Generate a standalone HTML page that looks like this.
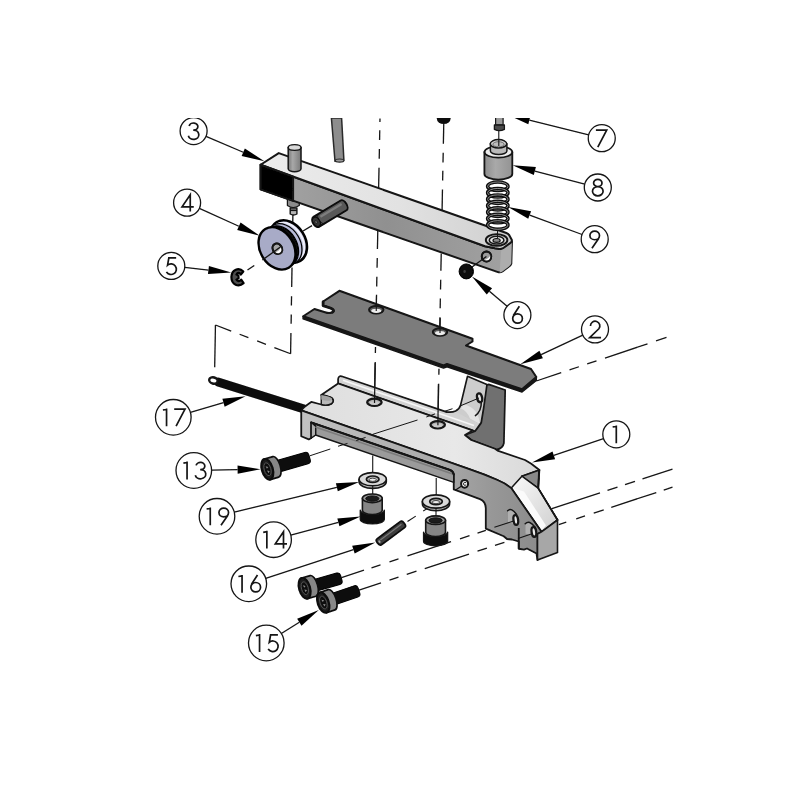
<!DOCTYPE html>
<html><head><meta charset="utf-8"><title>Exploded view</title>
<style>html,body{margin:0;padding:0;background:#fff;}body{width:800px;height:800px;overflow:hidden;font-family:"Liberation Sans",sans-serif;}svg{display:block}</style>
</head><body>
<svg width="800" height="800" viewBox="0 0 800 800">
<defs>
<linearGradient id="gBarTop" x1="0" y1="0" x2="1" y2="0"><stop offset="0" stop-color="#ececec"/><stop offset="0.55" stop-color="#e2e2e2"/><stop offset="1" stop-color="#cfcfcf"/></linearGradient>
<linearGradient id="gBarFront" x1="0" y1="0" x2="1" y2="0"><stop offset="0" stop-color="#a6a6a6"/><stop offset="0.5" stop-color="#909090"/><stop offset="1" stop-color="#a2a2a2"/></linearGradient>
<linearGradient id="gCyl" x1="0" y1="0" x2="1" y2="0"><stop offset="0" stop-color="#777"/><stop offset="0.35" stop-color="#a8a8a8"/><stop offset="1" stop-color="#7a7a7a"/></linearGradient>
<linearGradient id="gBaseTop" x1="0" y1="0" x2="1" y2="0"><stop offset="0" stop-color="#dedede"/><stop offset="0.6" stop-color="#e8e8e8"/><stop offset="1" stop-color="#d6d6d6"/></linearGradient>
<linearGradient id="gRamp" x1="0" y1="0" x2="1" y2="1"><stop offset="0" stop-color="#fafafa"/><stop offset="0.5" stop-color="#e4e4e4"/><stop offset="1" stop-color="#cfcfcf"/></linearGradient>
<linearGradient id="gFront" gradientUnits="userSpaceOnUse" x1="301" y1="0" x2="541" y2="0"><stop offset="0" stop-color="#c2c2c2"/><stop offset="0.6" stop-color="#a8a8a8"/><stop offset="0.8" stop-color="#979797"/><stop offset="1" stop-color="#8b8b8b"/></linearGradient>
<linearGradient id="gCyl2" x1="0" y1="0" x2="1" y2="0"><stop offset="0" stop-color="#8e8e8e"/><stop offset="0.4" stop-color="#a9a9a9"/><stop offset="1" stop-color="#939393"/></linearGradient>
<filter id="soft" x="0" y="0" width="800" height="800" filterUnits="userSpaceOnUse"><feGaussianBlur stdDeviation="0.38"/></filter>
<clipPath id="clipTop"><rect x="0" y="118.5" width="800" height="690"/></clipPath>
</defs>
<rect width="800" height="800" fill="#fff"/>
<g clip-path="url(#clipTop)"><g filter="url(#soft)">
<line x1="380.0" y1="118.5" x2="379.93" y2="122" stroke="#141414" stroke-width="1.3"/>
<line x1="379.77" y1="130.25" x2="379.58" y2="140" stroke="#141414" stroke-width="1.3"/>
<line x1="379.4" y1="149" x2="379.21" y2="158.75" stroke="#141414" stroke-width="1.3"/>
<line x1="379.03" y1="167.75" x2="378.63" y2="188" stroke="#141414" stroke-width="1.3"/>
<line x1="377.78" y1="231" x2="377.43" y2="249" stroke="#141414" stroke-width="1.3"/>
<line x1="377.25" y1="258" x2="377.06" y2="267.75" stroke="#141414" stroke-width="1.3"/>
<line x1="376.88" y1="276.75" x2="376.69" y2="286.5" stroke="#141414" stroke-width="1.3"/>
<line x1="376.53" y1="294.75" x2="376.25" y2="309" stroke="#141414" stroke-width="1.3"/>
<line x1="375.5" y1="347" x2="375.38" y2="353" stroke="#141414" stroke-width="1.3"/>
<line x1="375.21" y1="362" x2="374.41" y2="402.5" stroke="#141414" stroke-width="1.3"/>
<line x1="443.75" y1="124" x2="443.36" y2="143.75" stroke="#141414" stroke-width="1.3"/>
<line x1="443.19" y1="152.75" x2="443.0" y2="162.5" stroke="#141414" stroke-width="1.3"/>
<line x1="442.84" y1="170.75" x2="442.65" y2="180.5" stroke="#141414" stroke-width="1.3"/>
<line x1="442.47" y1="189.5" x2="442.07" y2="210" stroke="#141414" stroke-width="1.3"/>
<line x1="441.22" y1="253.5" x2="440.89" y2="270.75" stroke="#141414" stroke-width="1.3"/>
<line x1="440.71" y1="279.75" x2="440.52" y2="289.5" stroke="#141414" stroke-width="1.3"/>
<line x1="440.34" y1="298.5" x2="440.15" y2="308.25" stroke="#141414" stroke-width="1.3"/>
<line x1="439.98" y1="317.25" x2="439.7" y2="331.5" stroke="#141414" stroke-width="1.3"/>
<line x1="438.97" y1="368.75" x2="438.86" y2="374.75" stroke="#141414" stroke-width="1.3"/>
<line x1="438.68" y1="383.75" x2="437.89" y2="424.25" stroke="#141414" stroke-width="1.3"/>
<ellipse cx="443.7" cy="118.5" rx="6.9" ry="5.6" fill="#0a0a0a" stroke="none" stroke-width="1.3"/>
<line x1="290.94" y1="333.1" x2="290.6" y2="353.75" stroke="#141414" stroke-width="1.3"/>
<line x1="291.25" y1="314.4" x2="291.1" y2="323.75" stroke="#141414" stroke-width="1.3"/>
<line x1="291.55" y1="296.25" x2="291.39" y2="305.6" stroke="#141414" stroke-width="1.3"/>
<line x1="292.02" y1="267.5" x2="291.7" y2="286.9" stroke="#141414" stroke-width="1.3"/>
<line x1="292.91" y1="214" x2="292.64" y2="230" stroke="#141414" stroke-width="1.3"/>
<line x1="290.6" y1="353.75" x2="215.45" y2="325" stroke="#141414" stroke-width="1.3" stroke-dasharray="17.4 9 9.4 9.4 9.4 9 17.6"/>
<line x1="215.45" y1="325" x2="214.7" y2="367.3" stroke="#141414" stroke-width="1.3"/>
<line x1="536.3" y1="381.0" x2="561.2" y2="372.67" stroke="#141414" stroke-width="1.3"/>
<line x1="569.5" y1="369.89" x2="578.9" y2="366.75" stroke="#141414" stroke-width="1.3"/>
<line x1="587.2" y1="363.97" x2="596.5" y2="360.86" stroke="#141414" stroke-width="1.3"/>
<line x1="605" y1="358.02" x2="647.5" y2="343.8" stroke="#141414" stroke-width="1.3"/>
<line x1="656" y1="340.96" x2="666.5" y2="337.45" stroke="#141414" stroke-width="1.3"/>
<polygon points="331.4,118 341.6,118 343.9,160.3 335.0,161.3" fill="#8d8d8d" stroke="#2a2a2a" stroke-width="1.5" stroke-linejoin="round" />
<ellipse cx="339.6" cy="160.6" rx="4.3" ry="1.6" fill="#9a9a9a" stroke="#2a2a2a" stroke-width="1.2"/>
<path d="M287.4,198 L287.4,205.5 Q293,209.5 299.3,205.5 L299.3,198 Z" fill="#8c8c8c" stroke="#141414" stroke-width="1.2" stroke-linejoin="round" stroke-linecap="round" />
<path d="M290.2,208 L290.2,214 Q293.5,216 296.9,214 L296.9,208 Z" fill="#b5b5b5" stroke="#141414" stroke-width="1.4" stroke-linejoin="round" stroke-linecap="round" />
<line x1="290.2" y1="210.3" x2="296.9" y2="210.3" stroke="#141414" stroke-width="1.6"/>
<path d="M260.6,164.75 L485,246.3 L495,248.2 L501.25,249 L511.9,241.9 L511.3,263.6 Q510.6,265.4 509,266.4 L502.4,271.4 Q500.4,272.8 498,272.1 L260.6,189.4 Z" fill="url(#gBarFront)" stroke="#141414" stroke-width="2.0" stroke-linejoin="round" stroke-linecap="round" />
<path d="M501.25,249 L511.9,241.9 L511.3,263.6 Q510.6,265.4 509,266.4 L502.4,271.4 Q501,272.4 499.6,272.5 Z" fill="#adadad" stroke="none" stroke-width="0" stroke-linejoin="round" stroke-linecap="round" />
<path d="M260.6,164.75 L278.75,153.1 L506.4,233 Q508.4,233.8 509.4,235.4 L511.6,239.4 Q512.4,241.4 510.8,242.6 L503,248.2 Q501.4,249.2 499.4,249 L495,248.3 L485,246.3 Z" fill="url(#gBarTop)" stroke="#141414" stroke-width="2.0" stroke-linejoin="round" stroke-linecap="round" />
<polygon points="260.6,164.75 293.1,176.6 293.1,200.9 260.6,189.4" fill="#000" stroke="#141414" stroke-width="2.0" stroke-linejoin="round" />
<path d="M288.2,147.5 L288.2,168.8 A6.4,2.9 0 0 0 301,168.8 L301,147.5 Z" fill="url(#gCyl)" stroke="#141414" stroke-width="1.5" stroke-linejoin="round" stroke-linecap="round" />
<ellipse cx="294.6" cy="147.5" rx="6.4" ry="2.9" fill="#d9d9d9" stroke="#141414" stroke-width="1.4"/>
<ellipse cx="496.6" cy="240" rx="10.8" ry="5.9" fill="#d4d4d4" stroke="#141414" stroke-width="1.9"/>
<ellipse cx="496.6" cy="240.2" rx="7.3" ry="3.9" fill="#e9e9e9" stroke="#141414" stroke-width="1.5"/>
<ellipse cx="496.6" cy="240.4" rx="3.6" ry="1.9" fill="#8a8a8a" stroke="#141414" stroke-width="1.2"/>
<line x1="497.6" y1="230" x2="497.4" y2="238.4" stroke="#141414" stroke-width="1.0"/>
<ellipse cx="486.5" cy="256.5" rx="4.7" ry="5.0" fill="#9c9c9c" stroke="#141414" stroke-width="1.9"/>
<path d="M483.4,260.2 A4.7,5 0 0 0 490.9,254.6 Q488.6,259.4 483.4,260.2 Z" fill="#fff" stroke="none" stroke-width="0" stroke-linejoin="round" stroke-linecap="round" />
<ellipse cx="486.5" cy="256.5" rx="4.7" ry="5.0" fill="none" stroke="#141414" stroke-width="1.9"/>
<g transform="translate(316.4,221.8) rotate(-31.09)">
<path d="M0,-5.7 L31.76,-5.7 A3.2,5.7 0 0 1 31.76,5.7 L0,5.7 A3.6,5.7 0 0 1 0,-5.7 Z" fill="#585858" stroke="#0a0a0a" stroke-width="1.9"/>
<line x1="6" y1="-2.2" x2="30.76" y2="-2.2" stroke="#7d7d7d" stroke-width="2.4"/>
<path d="M4.2,-5.7 A3.6,5.7 0 0 0 4.2,5.7" fill="none" stroke="#111" stroke-width="1.3"/>
<path d="M6.6,-5.7 A3.6,5.7 0 0 0 6.6,5.7" fill="none" stroke="#111" stroke-width="1.0"/>
<ellipse cx="0" cy="0" rx="3.4" ry="5.1000000000000005" fill="#343434" stroke="#0a0a0a" stroke-width="1.2"/>
<ellipse cx="-0.4" cy="0.2" rx="1.1" ry="1.7" fill="#6a6a6a" stroke="#111" stroke-width="0.6"/>
</g>
<line x1="303" y1="231" x2="312" y2="225.6" stroke="#141414" stroke-width="1.3"/>
<ellipse cx="288.48" cy="241.5" rx="16.7" ry="22.6" fill="#d6d8ee" stroke="#000" stroke-width="2.6" transform="rotate(-31.3 288.48 241.5)"/>
<ellipse cx="287.28" cy="242.22" rx="15.95" ry="21.58" fill="#f3f3fb" stroke="none" stroke-width="0" transform="rotate(-31.3 287.28 242.22)"/>
<ellipse cx="285.91" cy="243.04" rx="15.95" ry="21.58" fill="#cbcee8" stroke="none" stroke-width="0" transform="rotate(-31.3 285.91 243.04)"/>
<ellipse cx="284.03" cy="244.18" rx="16.2" ry="21.92" fill="#b7bad8" stroke="#000" stroke-width="1.3" transform="rotate(-31.3 284.03 244.18)"/>
<ellipse cx="280.94" cy="246.03" rx="15.95" ry="21.58" fill="#080808" stroke="#000" stroke-width="1.2" transform="rotate(-31.3 280.94 246.03)"/>
<ellipse cx="277.0" cy="248.4" rx="16.7" ry="22.6" fill="#a8abc7" stroke="#000" stroke-width="2.4" transform="rotate(-31.3 277.0 248.4)"/>
<ellipse cx="277.4" cy="248.8" rx="4.6" ry="5.5" fill="#a5a5a5" stroke="#141414" stroke-width="2.0" transform="rotate(-31.3 277.4 248.8)"/>
<path d="M274.2,252.6 A4.6,5.5 -31.3 0 0 281.4,246.6 Q279,252 274.2,252.6 Z" fill="#fff" stroke="none" stroke-width="0" stroke-linejoin="round" stroke-linecap="round" />
<ellipse cx="277.4" cy="248.8" rx="4.6" ry="5.5" fill="none" stroke="#141414" stroke-width="2.0" transform="rotate(-31.3 277.4 248.8)"/>
<line x1="262.4" y1="260" x2="280" y2="247.3" stroke="#141414" stroke-width="1.3"/>
<line x1="247.5" y1="270" x2="254.25" y2="265.5" stroke="#141414" stroke-width="1.3"/>
<path d="M243.3,271.6 C239,266.8 231.6,269.4 231.4,277 C231.4,284.8 238.6,287.6 243.6,283.2 L241.2,279.6 C239.6,281.6 237.4,281.6 236.4,279.6 L238.6,278.4 L238.4,275.4 L236.4,274.6 C237.4,272.4 239.6,272.2 240.8,274.6 Z" fill="#4e4e4e" stroke="#000" stroke-width="2.2" stroke-linejoin="round" stroke-linecap="round" />
<polygon points="495.6,116 503.1,116 503.1,125 495.6,125" fill="#9a9a9a" stroke="#141414" stroke-width="1.2" stroke-linejoin="round" />
<path d="M494.4,125 L494.4,129.4 Q499.4,132 504.4,129.4 L504.4,125 Z" fill="#4a4a4a" stroke="#141414" stroke-width="1.3" stroke-linejoin="round" stroke-linecap="round" />
<line x1="498.8" y1="131" x2="498.8" y2="146" stroke="#141414" stroke-width="1.1"/>
<ellipse cx="497.8" cy="186.3" rx="10.2" ry="4.3" fill="none" stroke="#0c0c0c" stroke-width="3.5"/>
<ellipse cx="497.8" cy="186.3" rx="10.2" ry="4.3" fill="none" stroke="#9a9a9a" stroke-width="0.9"/>
<ellipse cx="497.8" cy="192.75" rx="10.2" ry="4.3" fill="none" stroke="#0c0c0c" stroke-width="3.5"/>
<ellipse cx="497.8" cy="192.75" rx="10.2" ry="4.3" fill="none" stroke="#9a9a9a" stroke-width="0.9"/>
<ellipse cx="497.8" cy="199.20000000000002" rx="10.2" ry="4.3" fill="none" stroke="#0c0c0c" stroke-width="3.5"/>
<ellipse cx="497.8" cy="199.20000000000002" rx="10.2" ry="4.3" fill="none" stroke="#9a9a9a" stroke-width="0.9"/>
<ellipse cx="497.8" cy="205.65" rx="10.2" ry="4.3" fill="none" stroke="#0c0c0c" stroke-width="3.5"/>
<ellipse cx="497.8" cy="205.65" rx="10.2" ry="4.3" fill="none" stroke="#9a9a9a" stroke-width="0.9"/>
<ellipse cx="497.8" cy="212.10000000000002" rx="10.2" ry="4.3" fill="none" stroke="#0c0c0c" stroke-width="3.5"/>
<ellipse cx="497.8" cy="212.10000000000002" rx="10.2" ry="4.3" fill="none" stroke="#9a9a9a" stroke-width="0.9"/>
<ellipse cx="497.8" cy="218.55" rx="10.2" ry="4.3" fill="none" stroke="#0c0c0c" stroke-width="3.5"/>
<ellipse cx="497.8" cy="218.55" rx="10.2" ry="4.3" fill="none" stroke="#9a9a9a" stroke-width="0.9"/>
<ellipse cx="497.8" cy="225.0" rx="10.2" ry="4.3" fill="none" stroke="#0c0c0c" stroke-width="3.5"/>
<ellipse cx="497.8" cy="225.0" rx="10.2" ry="4.3" fill="none" stroke="#9a9a9a" stroke-width="0.9"/>
<path d="M484.4,152 L484.4,174 A13.95,5.6 0 0 0 512.3,174 L512.3,152 Z" fill="url(#gCyl2)" stroke="#141414" stroke-width="1.8" stroke-linejoin="round" stroke-linecap="round" />
<ellipse cx="498.4" cy="152" rx="13.9" ry="5.6" fill="#ededed" stroke="#141414" stroke-width="1.8"/>
<path d="M490.4,143.8 L490.4,151 A8.25,3.6 0 0 0 506.9,151 L506.9,143.8 Z" fill="#b9b9b9" stroke="#141414" stroke-width="1.5" stroke-linejoin="round" stroke-linecap="round" />
<ellipse cx="498.5" cy="143.8" rx="8.25" ry="4.2" fill="#d2d2d2" stroke="#141414" stroke-width="1.5"/>
<ellipse cx="498.5" cy="144.3" rx="5.6" ry="2.6" fill="#bdbdbd" stroke="#555" stroke-width="0.8"/>
<line x1="498.8" y1="139" x2="498.8" y2="146" stroke="#141414" stroke-width="1.1"/>
<line x1="470" y1="268.6" x2="486.4" y2="256.6" stroke="#141414" stroke-width="1.3"/>
<ellipse cx="466.3" cy="271.4" rx="7.2" ry="7.5" fill="#080808" stroke="#000" stroke-width="1"/>
<ellipse cx="464.6" cy="271.4" rx="1.3" ry="1.6" fill="#3c3c3c" stroke="none" stroke-width="0"/>
<line x1="218" y1="382" x2="304" y2="409" stroke="#0a0a0a" stroke-width="8.8" stroke-linecap="round"/>
<ellipse cx="213.4" cy="380.5" rx="4.3" ry="3.1" fill="#fff" stroke="#141414" stroke-width="2.4" transform="rotate(15 213.4 380.5)"/>
<path d="M341.6,376.3 L446.25,411.9 L456.9,410.5 L480,425 L475,431.25 L338.1,383.6 L338.1,379 Q338.6,375.6 341.6,376.3 Z" fill="#d2d2d2" stroke="none" stroke-width="0" stroke-linejoin="round" stroke-linecap="round" />
<path d="M446.25,411.9 L341.6,376.3 Q338.6,375.6 338.1,379 L338.1,383.6 L475,431.25" fill="none" stroke="#141414" stroke-width="1.7" stroke-linejoin="round" stroke-linecap="round" />
<line x1="343" y1="380.2" x2="474" y2="425.5" stroke="#f6f6f6" stroke-width="1.6"/>
<path d="M467.5,376.25 L486.9,384.4 L483.75,407.5 L481.25,422.5 L480,425 L455,411.2 Q459.5,409.5 460.5,405 Z" fill="#cdcdcd" stroke="none" stroke-width="0" stroke-linejoin="round" stroke-linecap="round" />
<path d="M463.5,404.5 Q472,406 476,412 Q479,417 480,424 L470,418.6 Q467,411 461,408.6 Z" fill="#e4e4e4" stroke="none" stroke-width="0" stroke-linejoin="round" stroke-linecap="round" />
<path d="M446.25,411.9 Q452,412.6 455.6,411 Q459.6,409 460.6,405 L467.5,376.25 L486.9,384.4" fill="none" stroke="#141414" stroke-width="1.6" stroke-linejoin="round" stroke-linecap="round" />
<ellipse cx="479.6" cy="397.8" rx="2.5" ry="4.5" fill="#e2e2e2" stroke="#141414" stroke-width="2.3" transform="rotate(-12 479.6 397.8)"/>
<path d="M481.3,402 Q481.5,411 475.4,415.6" fill="none" stroke="#141414" stroke-width="1.5" stroke-linejoin="round" stroke-linecap="round" />
<line x1="461" y1="405.6" x2="479" y2="398" stroke="#141414" stroke-width="1.0"/>
<path d="M488.75,384.4 L505.2,390 L503.9,443 Q503,448.5 496.25,449.6 L471.25,440 L465,435 L475,431.25 Q480.5,424 481.25,422.5 L483.75,407.5 L486.9,385 Z" fill="#6f6f6f" stroke="#141414" stroke-width="1.7" stroke-linejoin="round" stroke-linecap="round" />
<path d="M338.1,383.4 L321.25,395 L321.25,400 Q326,404.5 331,402.2 Q333.6,400 331.5,397.5 L329,396.4 M0,0" fill="none" stroke="#141414" stroke-width="0" stroke-linejoin="round" stroke-linecap="round" />
<path d="M338.1,383.4 L472.6,430.4 L465,435 L471.25,440 L495,448.75 L497.5,450.6 L525,460 L531.25,463.75 L539.4,470 L521.9,476.25 L538.1,488.1 L557.5,520 L541.5,531.8 L511.25,488.1 Q505,483 497.5,480 Q485,474.5 470,469.4 L301.25,410.3 Q303,407.5 311.25,401.9 L321.25,404.5 Q327,406.2 331.6,403.6 Q334.5,401 332,398.2 Q330,396.6 321.25,395 Z" fill="url(#gBaseTop)" stroke="#141414" stroke-width="1.8" stroke-linejoin="round" stroke-linecap="round" />
<path d="M321.25,395 L321.25,404.5 Q327,406.2 331.6,403.6 Q334.5,401 332,398.2 Q330,396.6 321.25,395 Z" fill="#b8b8b8" stroke="#141414" stroke-width="1.4" stroke-linejoin="round" stroke-linecap="round" />
<path d="M321.25,399.5 Q327,401.5 331.2,400.2 L332,398.2 Q330,396.6 321.25,395 Z" fill="#a2a2a2" stroke="none" stroke-width="0" stroke-linejoin="round" stroke-linecap="round" />
<polygon points="521.9,476.25 539.4,470 538.1,488.1" fill="#8a8a8a" stroke="#141414" stroke-width="1.5" stroke-linejoin="round" />
<line x1="539.2" y1="470" x2="538.3" y2="488" stroke="#141414" stroke-width="2"/>
<polygon points="511.25,488.1 521.9,476.25 538.1,488.1 557.5,520 541.5,531.8" fill="url(#gRamp)" stroke="#141414" stroke-width="1.5" stroke-linejoin="round" />
<polygon points="512.5,488.3 524,491.5 546,525.5 541.3,530.5" fill="#fbfbfb" stroke="none" stroke-width="0" stroke-linejoin="round" />
<polygon points="541.5,531.8 546.5,525 557.5,520" fill="#cfcfcf" stroke="none" stroke-width="0" stroke-linejoin="round" />
<path d="M511.25,488.1 L541.5,531.8 L557.5,520 L538.1,488.1" fill="none" stroke="#141414" stroke-width="1.6" stroke-linejoin="round" stroke-linecap="round" />
<ellipse cx="374.4" cy="402.3" rx="7.2" ry="3.6" fill="#b4b4b4" stroke="#141414" stroke-width="2.3"/>
<ellipse cx="374.4" cy="403.1" rx="4.6" ry="1.9" fill="#c9c9c9" stroke="none" stroke-width="0"/>
<line x1="375.2" y1="363" x2="374.5" y2="403" stroke="#141414" stroke-width="1.2"/>
<ellipse cx="437.7" cy="424.7" rx="7.2" ry="3.6" fill="#b4b4b4" stroke="#141414" stroke-width="2.3"/>
<ellipse cx="437.7" cy="425.5" rx="4.6" ry="1.9" fill="#c9c9c9" stroke="none" stroke-width="0"/>
<line x1="438.4" y1="384" x2="437.9" y2="425.2" stroke="#141414" stroke-width="1.2"/>
<path d="M301.25,410.3 L453.75,463.7 L470,469.4 Q485,474.5 497.5,480 Q505,483 511.25,488.1 L541.5,531.8 L537.5,534 L537.5,560 L536.5,553.5 L527,548.5 L524,549.6 L518.75,548.75 L518.75,541.5 L512,539.5 L507,539 L503.75,536.25 L485.8,528.6 L485.8,508 Q485.5,501.5 480,499.2 L453.75,489.4 L453.75,474.4 Q453,471 450,470 L311.25,422.5 L311.25,437.9 L308.75,439.4 L301.25,436.25 Z" fill="url(#gFront)" stroke="#141414" stroke-width="1.8" stroke-linejoin="round" stroke-linecap="round" />
<polygon points="311.25,422.5 315.6,426.25 315.6,435 311.25,437.9" fill="#a9a9a9" stroke="#141414" stroke-width="1.2" stroke-linejoin="round" />
<path d="M311.25,422.5 L450,470 Q453,471 453.75,474.4 L453.75,482.4 L315.6,435 L315.6,426.25 Z" fill="#9b9b9b" stroke="#141414" stroke-width="1.4" stroke-linejoin="round" stroke-linecap="round" />
<polygon points="311.25,422.5 315.6,426.25 315.6,435 311.25,437.9" fill="#aeaeae" stroke="#141414" stroke-width="1.2" stroke-linejoin="round" />
<path d="M316,427.2 L452,473.8" fill="none" stroke="#7c7c7c" stroke-width="1.6" stroke-linejoin="round" stroke-linecap="round" />
<path d="M311.25,422.5 L450,470 Q453,471 453.75,474.4" fill="none" stroke="#141414" stroke-width="2.2" stroke-linejoin="round" stroke-linecap="round" />
<path d="M541.5,531.8 L557.5,520 L557.5,552.5 L537.5,560 L537.5,534 Z" fill="#a7a7a7" stroke="#141414" stroke-width="1.6" stroke-linejoin="round" stroke-linecap="round" />
<line x1="518.75" y1="528" x2="518.75" y2="548.75" stroke="#141414" stroke-width="1.8"/>
<path d="M508,510.5 Q511,507.5 516,514 L516.5,525 L508,522 Z" fill="#b0b0b0" stroke="none" stroke-width="0" stroke-linejoin="round" stroke-linecap="round" />
<path d="M507.6,510.8 Q511.5,507 516.6,514.5" fill="none" stroke="#141414" stroke-width="1.5" stroke-linejoin="round" stroke-linecap="round" />
<ellipse cx="515.8" cy="520" rx="2.3" ry="4.9" fill="#e8e8e8" stroke="#141414" stroke-width="2.3" transform="rotate(-8 515.8 520)"/>
<path d="M525.5,523.5 Q529,520 534.5,526.5 L534.8,536.5 L525.5,533.5 Z" fill="#b0b0b0" stroke="none" stroke-width="0" stroke-linejoin="round" stroke-linecap="round" />
<path d="M525.2,523.8 Q529.5,519.5 534.8,527" fill="none" stroke="#141414" stroke-width="1.5" stroke-linejoin="round" stroke-linecap="round" />
<ellipse cx="533.9" cy="531.9" rx="2.3" ry="4.9" fill="#e8e8e8" stroke="#141414" stroke-width="2.3" transform="rotate(-8 533.9 531.9)"/>
<line x1="494.4" y1="527.25" x2="513.75" y2="521" stroke="#141414" stroke-width="1.1"/>
<line x1="518" y1="538.5" x2="531.25" y2="534" stroke="#141414" stroke-width="1.1"/>
<ellipse cx="464.6" cy="483.8" rx="3.5" ry="3.9" fill="#f4f4f4" stroke="#141414" stroke-width="2.0"/>
<path d="M465.8,482.6 A1.4,1.6 0 1 0 465.9,485" fill="none" stroke="#141414" stroke-width="0.9" stroke-linejoin="round" stroke-linecap="round" />
<line x1="461.25" y1="486.25" x2="455.6" y2="490" stroke="#141414" stroke-width="1.1"/>
<line x1="372.5" y1="434.4" x2="417.5" y2="420" stroke="#141414" stroke-width="1.0"/>
<line x1="426.25" y1="417" x2="435" y2="413.9" stroke="#141414" stroke-width="1.0"/>
<line x1="445" y1="411.2" x2="452.5" y2="408.7" stroke="#141414" stroke-width="1.0"/>
<path d="M303.1,316.25 L303.1,318.8 L443.5,368.1 L447,366.7 L522,392 L536.3,380.4 L536.3,377 L522,389.2 L447,364 L443.5,365.5 Z" fill="#1a1a1a" stroke="#141414" stroke-width="1.5" stroke-linejoin="round" stroke-linecap="round" />
<path d="M339.4,290.8 L472.5,338.75 L472.5,341.5 L466,345.5 L531,369 L536.3,377 L522,389.2 L447,364 L443.5,365.5 L303.3,316.25 L314.4,309 L325,312.2 Q329,313.6 332,312.5 Q335.4,310.6 331,308.3 L323.1,305.6 L323.1,301.5 Z" fill="#7c7c7c" stroke="#141414" stroke-width="2.0" stroke-linejoin="round" stroke-linecap="round" />
<path d="M323.1,302 L323.1,305.6 L331,308.3 Q335.2,310.4 332.6,312.2" fill="none" stroke="#141414" stroke-width="2.8" stroke-linejoin="round" stroke-linecap="round" />
<ellipse cx="376.25" cy="309.75" rx="7.25" ry="3.75" fill="#5a5a5a" stroke="#141414" stroke-width="1.9"/>
<ellipse cx="376.25" cy="310.85" rx="5" ry="2.1" fill="#ececec" stroke="none" stroke-width="0"/>
<ellipse cx="440" cy="332" rx="7.25" ry="3.75" fill="#5a5a5a" stroke="#141414" stroke-width="1.9"/>
<ellipse cx="440" cy="333.1" rx="5" ry="2.1" fill="#ececec" stroke="none" stroke-width="0"/>
<line x1="376.5" y1="296" x2="376.25" y2="311" stroke="#141414" stroke-width="1.1"/>
<line x1="440.2" y1="318" x2="440" y2="333" stroke="#141414" stroke-width="1.1"/>
<g transform="translate(267.3,469.3) rotate(-16.00)">
<path d="M8,-5.9 L40.70,-5.9 Q43.90,-5.9 43.90,-2.6 L43.90,2.6 Q43.90,5.9 40.70,5.9 L8,5.9 Z" fill="#0e0e0e" stroke="#000" stroke-width="1"/>
<path d="M0,-10.7 L8.8,-10.7 A4.6,10.7 0 0 1 8.8,10.7 L0,10.7 Z" fill="#878787" stroke="#0c0c0c" stroke-width="1.7"/>
<ellipse cx="0" cy="0" rx="5.6" ry="10.7" fill="#1c1c1c" stroke="#0a0a0a" stroke-width="1.9"/>
<ellipse cx="0.2" cy="0" rx="3.3" ry="6.6" fill="#0c0c0c" stroke="#5e5e5e" stroke-width="0.8"/>
<path d="M-0.8,-3.4 L1.6,-2 L-0.2,-0.6 Z M-0.6,1.2 L1.8,2.4 L0,4 Z" fill="#8a8a8a"/>
</g>
<line x1="310" y1="455.75" x2="330.25" y2="449" stroke="#141414" stroke-width="1.0"/>
<line x1="338" y1="446.25" x2="347.5" y2="443.4" stroke="#141414" stroke-width="1.0"/>
<line x1="356.25" y1="440.6" x2="365.6" y2="437.4" stroke="#141414" stroke-width="1.0"/>
<line x1="372.7" y1="455.5" x2="372.7" y2="473" stroke="#141414" stroke-width="1.1"/>
<path d="M359.09999999999997,479.2 L359.09999999999997,481.8 A13.6,6.6 0 0 0 386.3,481.8 L386.3,479.2 Z" fill="#bdbdbd" stroke="#141414" stroke-width="1.6" stroke-linejoin="round" stroke-linecap="round" />
<ellipse cx="372.7" cy="479.2" rx="13.6" ry="6.6" fill="#dadada" stroke="#141414" stroke-width="1.6"/>
<ellipse cx="372.7" cy="479.2" rx="6.3" ry="3.2" fill="#b5b5b5" stroke="#141414" stroke-width="1.7"/>
<ellipse cx="372.7" cy="479.8" rx="3.6" ry="1.6" fill="#efefef" stroke="#333" stroke-width="0.9"/>
<line x1="372.7" y1="486" x2="372.7" y2="494" stroke="#141414" stroke-width="1.1"/>
<path d="M360.3,510.3 L360.3,519.3 A12,4.6 0 0 0 384.3,519.3 L384.3,510.3 A12,4.6 0 0 1 360.3,510.3 Z" fill="#0b0b0b" stroke="#141414" stroke-width="1.4" stroke-linejoin="round" stroke-linecap="round" />
<path d="M362.40000000000003,498.3 L362.40000000000003,510.3 A9.9,4.3 0 0 0 382.2,510.3 L382.2,498.3 Z" fill="#858585" stroke="#141414" stroke-width="1.6" stroke-linejoin="round" stroke-linecap="round" />
<ellipse cx="372.3" cy="498.3" rx="9.9" ry="4.3" fill="#9a9a9a" stroke="#141414" stroke-width="1.6"/>
<ellipse cx="372.3" cy="498.6" rx="6.6" ry="2.7" fill="#1e1e1e" stroke="#000" stroke-width="0.8"/>
<line x1="436.2" y1="478" x2="436.2" y2="496" stroke="#141414" stroke-width="1.1"/>
<path d="M422.4,501.5 L422.4,504.1 A13.6,6.6 0 0 0 449.6,504.1 L449.6,501.5 Z" fill="#bdbdbd" stroke="#141414" stroke-width="1.6" stroke-linejoin="round" stroke-linecap="round" />
<ellipse cx="436" cy="501.5" rx="13.6" ry="6.6" fill="#dadada" stroke="#141414" stroke-width="1.6"/>
<ellipse cx="436" cy="501.5" rx="6.3" ry="3.2" fill="#b5b5b5" stroke="#141414" stroke-width="1.7"/>
<ellipse cx="436" cy="502.1" rx="3.6" ry="1.6" fill="#efefef" stroke="#333" stroke-width="0.9"/>
<line x1="436" y1="508.5" x2="436" y2="516" stroke="#141414" stroke-width="1.1"/>
<path d="M423.6,532.2 L423.6,541.2 A12,4.6 0 0 0 447.6,541.2 L447.6,532.2 A12,4.6 0 0 1 423.6,532.2 Z" fill="#0b0b0b" stroke="#141414" stroke-width="1.4" stroke-linejoin="round" stroke-linecap="round" />
<path d="M425.70000000000005,520.2 L425.70000000000005,532.2 A9.9,4.3 0 0 0 445.5,532.2 L445.5,520.2 Z" fill="#858585" stroke="#141414" stroke-width="1.6" stroke-linejoin="round" stroke-linecap="round" />
<ellipse cx="435.6" cy="520.2" rx="9.9" ry="4.3" fill="#9a9a9a" stroke="#141414" stroke-width="1.6"/>
<ellipse cx="435.6" cy="520.5" rx="6.6" ry="2.7" fill="#1e1e1e" stroke="#000" stroke-width="0.8"/>
<g transform="translate(379.2,541.8) rotate(-36.54)">
<path d="M0,-3.7 L29.24,-3.7 Q31.24,-3.7 31.24,0 Q31.24,3.7 29.24,3.7 L0,3.7 A2.2,3.7 0 0 1 0,-3.7 Z" fill="#3c3c3c" stroke="#0a0a0a" stroke-width="1.7"/>
<line x1="2" y1="-0.8" x2="28.24" y2="-0.8" stroke="#7a7a7a" stroke-width="1.3"/>
<ellipse cx="0.3" cy="0" rx="1" ry="1.4" fill="#aaa"/>
</g>
<line x1="407.5" y1="521.5" x2="415.75" y2="516.1" stroke="#141414" stroke-width="1.1"/>
<line x1="423.25" y1="511" x2="427" y2="508.6" stroke="#141414" stroke-width="1.1"/>
<line x1="341.5" y1="577.62" x2="364" y2="570.24" stroke="#141414" stroke-width="1.3"/>
<line x1="371.5" y1="567.78" x2="380.5" y2="564.83" stroke="#141414" stroke-width="1.3"/>
<line x1="389.5" y1="561.88" x2="398.5" y2="558.93" stroke="#141414" stroke-width="1.3"/>
<line x1="407.5" y1="555.98" x2="451" y2="541.72" stroke="#141414" stroke-width="1.3"/>
<line x1="460" y1="538.77" x2="469.5" y2="535.65" stroke="#141414" stroke-width="1.3"/>
<line x1="477.5" y1="533.03" x2="485.8" y2="530.31" stroke="#141414" stroke-width="1.3"/>
<line x1="551.9" y1="508.64" x2="600" y2="492.87" stroke="#141414" stroke-width="1.3"/>
<line x1="607.5" y1="490.41" x2="617.5" y2="487.13" stroke="#141414" stroke-width="1.3"/>
<line x1="625" y1="484.67" x2="635" y2="481.39" stroke="#141414" stroke-width="1.3"/>
<line x1="642.5" y1="478.94" x2="672.5" y2="469.1" stroke="#141414" stroke-width="1.3"/>
<line x1="359" y1="590.12" x2="381" y2="582.9" stroke="#141414" stroke-width="1.3"/>
<line x1="389.5" y1="580.11" x2="398.5" y2="577.15" stroke="#141414" stroke-width="1.3"/>
<line x1="406.75" y1="574.44" x2="416.5" y2="571.24" stroke="#141414" stroke-width="1.3"/>
<line x1="424.75" y1="568.53" x2="469" y2="554.01" stroke="#141414" stroke-width="1.3"/>
<line x1="477.5" y1="551.22" x2="486.9" y2="548.13" stroke="#141414" stroke-width="1.3"/>
<line x1="495" y1="545.47" x2="504.4" y2="542.39" stroke="#141414" stroke-width="1.3"/>
<line x1="558.75" y1="524.54" x2="566.25" y2="522.08" stroke="#141414" stroke-width="1.3"/>
<line x1="576.25" y1="518.8" x2="585" y2="515.93" stroke="#141414" stroke-width="1.3"/>
<line x1="593.75" y1="513.05" x2="603.75" y2="509.77" stroke="#141414" stroke-width="1.3"/>
<line x1="611.25" y1="507.31" x2="656.25" y2="492.53" stroke="#141414" stroke-width="1.3"/>
<line x1="663.75" y1="490.07" x2="672.5" y2="487.2" stroke="#141414" stroke-width="1.3"/>
<g transform="translate(304.6,588.3) rotate(-15.82)">
<path d="M8,-5.9 L34.95,-5.9 Q38.15,-5.9 38.15,-2.6 L38.15,2.6 Q38.15,5.9 34.95,5.9 L8,5.9 Z" fill="#0e0e0e" stroke="#000" stroke-width="1"/>
<path d="M0,-10.7 L8.8,-10.7 A4.6,10.7 0 0 1 8.8,10.7 L0,10.7 Z" fill="#878787" stroke="#0c0c0c" stroke-width="1.7"/>
<ellipse cx="0" cy="0" rx="5.6" ry="10.7" fill="#1c1c1c" stroke="#0a0a0a" stroke-width="1.9"/>
<ellipse cx="0.2" cy="0" rx="3.3" ry="6.6" fill="#0c0c0c" stroke="#5e5e5e" stroke-width="0.8"/>
<path d="M-0.8,-3.4 L1.6,-2 L-0.2,-0.6 Z M-0.6,1.2 L1.8,2.4 L0,4 Z" fill="#8a8a8a"/>
</g>
<g transform="translate(323.2,602.6) rotate(-18.87)">
<path d="M8,-5.9 L34.53,-5.9 Q37.73,-5.9 37.73,-2.6 L37.73,2.6 Q37.73,5.9 34.53,5.9 L8,5.9 Z" fill="#0e0e0e" stroke="#000" stroke-width="1"/>
<path d="M0,-10.7 L8.8,-10.7 A4.6,10.7 0 0 1 8.8,10.7 L0,10.7 Z" fill="#878787" stroke="#0c0c0c" stroke-width="1.7"/>
<ellipse cx="0" cy="0" rx="5.6" ry="10.7" fill="#1c1c1c" stroke="#0a0a0a" stroke-width="1.9"/>
<ellipse cx="0.2" cy="0" rx="3.3" ry="6.6" fill="#0c0c0c" stroke="#5e5e5e" stroke-width="0.8"/>
<path d="M-0.8,-3.4 L1.6,-2 L-0.2,-0.6 Z M-0.6,1.2 L1.8,2.4 L0,4 Z" fill="#8a8a8a"/>
</g>
<line x1="206.02" y1="136.39" x2="243.24" y2="152.24" stroke="#141414" stroke-width="1.3"/>
<polygon points="264.40,161.25 241.63,156.01 244.85,148.47" fill="#000"/>
<circle cx="193.6" cy="131.1" r="13.5" fill="#fff" stroke="#141414" stroke-width="1.3"/>
<path d="M2.3,3.9 A4.4,3.6 0 1 1 6.4,8.1 A5.3,4.6 0 1 1 1.5,13.7" transform="translate(186.85,122.10)" fill="none" stroke="#141414" stroke-width="1.7" stroke-linejoin="miter" stroke-miterlimit="6"/>
<line x1="199.39" y1="208.29" x2="238.87" y2="226.27" stroke="#141414" stroke-width="1.3"/>
<polygon points="259.80,235.80 237.17,230.00 240.57,222.54" fill="#000"/>
<circle cx="187.1" cy="202.7" r="13.5" fill="#fff" stroke="#141414" stroke-width="1.3"/>
<path d="M9.9,17.9 L9.9,1.0 L1.7,13.2 L13.4,13.2" transform="translate(180.35,193.70)" fill="none" stroke="#141414" stroke-width="1.7" stroke-linejoin="miter" stroke-miterlimit="6"/>
<line x1="184.72" y1="267.40" x2="208.44" y2="270.05" stroke="#141414" stroke-width="1.3"/>
<polygon points="231.30,272.60 207.99,274.12 208.90,265.97" fill="#000"/>
<circle cx="171.3" cy="265.9" r="13.5" fill="#fff" stroke="#141414" stroke-width="1.3"/>
<path d="M11.6,0.9 L4.3,0.9 L3.0,8.3 A5.3,5.3 0 1 1 1.9,14.9" transform="translate(164.55,256.90)" fill="none" stroke="#141414" stroke-width="1.7" stroke-linejoin="miter" stroke-miterlimit="6"/>
<line x1="588.65" y1="134.89" x2="529.32" y2="120.15" stroke="#141414" stroke-width="1.3"/>
<polygon points="507.00,114.60 530.31,116.17 528.33,124.13" fill="#000"/>
<circle cx="601.75" cy="138.15" r="13.5" fill="#fff" stroke="#141414" stroke-width="1.3"/>
<path d="M0.9,0.9 L11.7,0.9 L2.8,17.9" transform="translate(595.00,129.15)" fill="none" stroke="#141414" stroke-width="1.7" stroke-linejoin="miter" stroke-miterlimit="6"/>
<line x1="584.74" y1="184.08" x2="534.85" y2="171.02" stroke="#141414" stroke-width="1.3"/>
<polygon points="512.60,165.20 535.89,167.06 533.81,174.99" fill="#000"/>
<circle cx="597.8" cy="187.5" r="13.5" fill="#fff" stroke="#141414" stroke-width="1.3"/>
<path d="M2.55,4.45 A4.2,3.6 0 1 0 10.95,4.45 A4.2,3.6 0 1 0 2.55,4.45 M1.45,12.7 A5.3,4.65 0 1 0 12.05,12.7 A5.3,4.65 0 1 0 1.45,12.7" transform="translate(591.05,178.50)" fill="none" stroke="#141414" stroke-width="1.7" stroke-linejoin="miter" stroke-miterlimit="6"/>
<line x1="582.05" y1="234.50" x2="529.66" y2="215.02" stroke="#141414" stroke-width="1.3"/>
<polygon points="508.10,207.00 531.09,211.17 528.23,218.86" fill="#000"/>
<circle cx="594.7" cy="239.2" r="13.5" fill="#fff" stroke="#141414" stroke-width="1.3"/>
<path d="M1.95,5.2 A4.8,4.35 0 1 0 11.55,5.2 A4.8,4.35 0 1 0 1.95,5.2 M10.9,8.0 L4.0,18.0" transform="translate(587.95,230.20)" fill="none" stroke="#141414" stroke-width="1.7" stroke-linejoin="miter" stroke-miterlimit="6"/>
<line x1="507.12" y1="306.35" x2="489.42" y2="291.30" stroke="#141414" stroke-width="1.3"/>
<polygon points="471.90,276.40 492.08,288.18 486.76,294.42" fill="#000"/>
<circle cx="517.4" cy="315.1" r="13.5" fill="#fff" stroke="#141414" stroke-width="1.3"/>
<path d="M8.7,0.2 L2.7,9.4 M2.05,12.4 A4.85,4.7 0 1 0 11.75,12.4 A4.85,4.7 0 1 0 2.05,12.4" transform="translate(510.65,306.10)" fill="none" stroke="#141414" stroke-width="1.7" stroke-linejoin="miter" stroke-miterlimit="6"/>
<line x1="582.77" y1="335.11" x2="541.14" y2="354.56" stroke="#141414" stroke-width="1.3"/>
<polygon points="520.30,364.30 539.40,350.85 542.87,358.28" fill="#000"/>
<circle cx="595" cy="329.4" r="13.5" fill="#fff" stroke="#141414" stroke-width="1.3"/>
<path d="M2.2,5.5 A4.7,4.7 0 1 1 10.6,8.4 L1.4,17.2 L12.8,17.2" transform="translate(588.25,320.40)" fill="none" stroke="#141414" stroke-width="1.7" stroke-linejoin="miter" stroke-miterlimit="6"/>
<line x1="603.50" y1="438.60" x2="553.80" y2="455.28" stroke="#141414" stroke-width="1.3"/>
<polygon points="532.00,462.60 552.50,451.39 555.11,459.17" fill="#000"/>
<circle cx="616.3" cy="434.3" r="13.5" fill="#fff" stroke="#141414" stroke-width="1.3"/>
<path d="M3.1,1.7 L6.9,1.0 M6.75,0.1 L6.75,17.9" transform="translate(609.55,425.30)" fill="none" stroke="#141414" stroke-width="1.7" stroke-linejoin="miter" stroke-miterlimit="6"/>
<line x1="190.39" y1="412.34" x2="223.51" y2="402.72" stroke="#141414" stroke-width="1.3"/>
<polygon points="245.60,396.30 224.66,406.65 222.37,398.78" fill="#000"/>
<circle cx="173.3" cy="417.3" r="17.8" fill="#fff" stroke="#141414" stroke-width="1.3"/>
<path d="M3.1,1.7 L6.9,1.0 M6.75,0.1 L6.75,17.9" transform="translate(159.80,408.30)" fill="none" stroke="#141414" stroke-width="1.7" stroke-linejoin="miter" stroke-miterlimit="6"/>
<path d="M0.9,0.9 L11.7,0.9 L2.8,17.9" transform="translate(173.30,408.30)" fill="none" stroke="#141414" stroke-width="1.7" stroke-linejoin="miter" stroke-miterlimit="6"/>
<line x1="211.60" y1="470.18" x2="237.60" y2="469.71" stroke="#141414" stroke-width="1.3"/>
<polygon points="260.60,469.30 237.68,473.81 237.53,465.61" fill="#000"/>
<circle cx="193.8" cy="470.5" r="17.8" fill="#fff" stroke="#141414" stroke-width="1.3"/>
<path d="M3.1,1.7 L6.9,1.0 M6.75,0.1 L6.75,17.9" transform="translate(180.30,461.50)" fill="none" stroke="#141414" stroke-width="1.7" stroke-linejoin="miter" stroke-miterlimit="6"/>
<path d="M2.3,3.9 A4.4,3.6 0 1 1 6.4,8.1 A5.3,4.6 0 1 1 1.5,13.7" transform="translate(193.80,461.50)" fill="none" stroke="#141414" stroke-width="1.7" stroke-linejoin="miter" stroke-miterlimit="6"/>
<line x1="234.30" y1="512.11" x2="336.84" y2="487.31" stroke="#141414" stroke-width="1.3"/>
<polygon points="359.20,481.90 337.81,491.29 335.88,483.32" fill="#000"/>
<circle cx="217" cy="516.3" r="17.8" fill="#fff" stroke="#141414" stroke-width="1.3"/>
<path d="M3.1,1.7 L6.9,1.0 M6.75,0.1 L6.75,17.9" transform="translate(203.50,507.30)" fill="none" stroke="#141414" stroke-width="1.7" stroke-linejoin="miter" stroke-miterlimit="6"/>
<path d="M1.95,5.2 A4.8,4.35 0 1 0 11.55,5.2 A4.8,4.35 0 1 0 1.95,5.2 M10.9,8.0 L4.0,18.0" transform="translate(217.00,507.30)" fill="none" stroke="#141414" stroke-width="1.7" stroke-linejoin="miter" stroke-miterlimit="6"/>
<line x1="290.79" y1="535.10" x2="338.38" y2="522.35" stroke="#141414" stroke-width="1.3"/>
<polygon points="360.60,516.40 339.44,526.31 337.32,518.39" fill="#000"/>
<circle cx="273.6" cy="539.7" r="17.8" fill="#fff" stroke="#141414" stroke-width="1.3"/>
<path d="M3.1,1.7 L6.9,1.0 M6.75,0.1 L6.75,17.9" transform="translate(260.10,530.70)" fill="none" stroke="#141414" stroke-width="1.7" stroke-linejoin="miter" stroke-miterlimit="6"/>
<path d="M9.9,17.9 L9.9,1.0 L1.7,13.2 L13.4,13.2" transform="translate(273.60,530.70)" fill="none" stroke="#141414" stroke-width="1.7" stroke-linejoin="miter" stroke-miterlimit="6"/>
<line x1="265.72" y1="578.29" x2="353.43" y2="549.72" stroke="#141414" stroke-width="1.3"/>
<polygon points="375.30,542.60 354.70,553.62 352.16,545.82" fill="#000"/>
<circle cx="248.8" cy="583.8" r="17.8" fill="#fff" stroke="#141414" stroke-width="1.3"/>
<path d="M3.1,1.7 L6.9,1.0 M6.75,0.1 L6.75,17.9" transform="translate(235.30,574.80)" fill="none" stroke="#141414" stroke-width="1.7" stroke-linejoin="miter" stroke-miterlimit="6"/>
<path d="M8.7,0.2 L2.7,9.4 M2.05,12.4 A4.85,4.7 0 1 0 11.75,12.4 A4.85,4.7 0 1 0 2.05,12.4" transform="translate(248.80,574.80)" fill="none" stroke="#141414" stroke-width="1.7" stroke-linejoin="miter" stroke-miterlimit="6"/>
<line x1="281.37" y1="633.53" x2="299.33" y2="622.24" stroke="#141414" stroke-width="1.3"/>
<polygon points="318.80,610.00 301.51,625.71 297.15,618.77" fill="#000"/>
<circle cx="266.3" cy="643" r="17.8" fill="#fff" stroke="#141414" stroke-width="1.3"/>
<path d="M3.1,1.7 L6.9,1.0 M6.75,0.1 L6.75,17.9" transform="translate(252.80,634.00)" fill="none" stroke="#141414" stroke-width="1.7" stroke-linejoin="miter" stroke-miterlimit="6"/>
<path d="M11.6,0.9 L4.3,0.9 L3.0,8.3 A5.3,5.3 0 1 1 1.9,14.9" transform="translate(266.30,634.00)" fill="none" stroke="#141414" stroke-width="1.7" stroke-linejoin="miter" stroke-miterlimit="6"/>
</g></g>
</svg>
</body></html>
